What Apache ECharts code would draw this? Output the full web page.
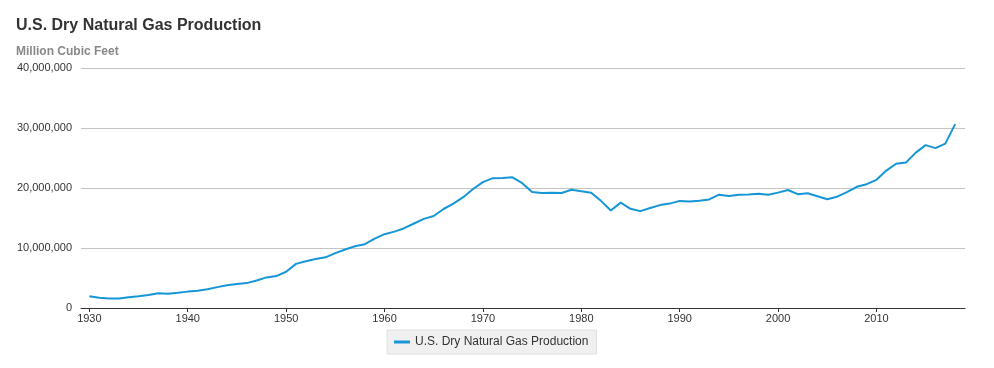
<!DOCTYPE html>
<html>
<head>
<meta charset="utf-8">
<script src="https://cdn.jsdelivr.net/npm/echarts@6/dist/echarts.min.js"></script>
<style>html,body{margin:0;padding:0;background:#fff}#c{width:994px;height:368px}</style>
</head>
<body>
<div id="c"></div>
<script>
const years = [];
for (let y = 1930; y <= 2018; y++) years.push(y);
const production = [
  1940000, 1720000, 1590000, 1600000, 1810000, 1970000, 2170000, 2470000, 2360000, 2540000,
  2730000, 2860000, 3110000, 3480000, 3790000, 3990000, 4150000, 4580000, 5100000, 5320000,
  6040000, 7350000, 7790000, 8150000, 8450000, 9150000, 9760000, 10300000, 10640000, 11570000,
  12300000, 12730000, 13300000, 14080000, 14860000, 15330000, 16500000, 17390000, 18470000, 19830000,
  20980000, 21640000, 21650000, 21780000, 20800000, 19340000, 19180000, 19220000, 19160000, 19700000,
  19470000, 19220000, 17860000, 16250000, 17560000, 16530000, 16150000, 16660000, 17150000, 17400000,
  17850000, 17740000, 17860000, 18100000, 18880000, 18650000, 18870000, 18930000, 19050000, 18880000,
  19230000, 19670000, 18970000, 19120000, 18630000, 18130000, 18550000, 19300000, 20200000, 20640000,
  21360000, 22900000, 24050000, 24250000, 25900000, 27150000, 26650000, 27400000, 30650000
];
const xTicks = [1930, 1940, 1950, 1960, 1970, 1980, 1990, 2000, 2010];
const seriesName = 'U.S. Dry Natural Gas Production';

const chart = echarts.init(document.getElementById('c'), null, {renderer: 'canvas'});
const font = '"Liberation Sans", Arial, sans-serif';
chart.setOption({
  animation: false,
  textStyle: {fontFamily: font},
  title: [
    {text: 'U.S. Dry Natural Gas Production', left: 16, top: 18, padding: 0,
     textStyle: {fontSize: 16, fontWeight: 'bold', color: '#333', fontFamily: font}},
    {text: 'Million Cubic Feet', left: 16, top: 46, padding: 0,
     textStyle: {fontSize: 12, fontWeight: 'bold', color: '#888', fontFamily: font}}
  ],
  legend: {
    data: [seriesName],
    left: 387, top: 330,
    backgroundColor: '#f0f0f0', borderColor: '#e0e0e0', borderWidth: 1,
    padding: [6, 8, 6, 7],
    icon: 'rect', itemWidth: 16, itemHeight: 3, itemGap: 5,
    textStyle: {fontSize: 12, color: '#333', fontFamily: font}
  },
  grid: {left: 81, right: 29, top: 68, bottom: 60, containLabel: false},
  xAxis: {
    type: 'value', min: 1929.15, max: 2019,
    axisLine: {show: true, lineStyle: {color: '#333', width: 1}},
    axisTick: {show: true, length: 4, lineStyle: {color: '#333'}, customValues: xTicks},
    axisLabel: {customValues: xTicks, fontSize: 11, color: '#333', margin: 5, fontFamily: font,
      formatter: v => String(v)},
    splitLine: {show: false}
  },
  yAxis: {
    type: 'value', min: 0, max: 40000000, interval: 10000000,
    axisLine: {show: false}, axisTick: {show: false},
    axisLabel: {fontSize: 11, color: '#333', margin: 9, fontFamily: font, padding: [4, 0, 0, 0],
      formatter: v => v.toLocaleString('en-US')},
    splitLine: {lineStyle: {color: '#c4c4c4', width: 1}}
  },
  series: [{
    name: seriesName, type: 'line', showSymbol: false,
    data: years.map((y, i) => [y, production[i]]),
    lineStyle: {color: '#1696d6', width: 2},
    itemStyle: {color: '#1696d6'}
  }]
});
</script>
</body>
</html>
